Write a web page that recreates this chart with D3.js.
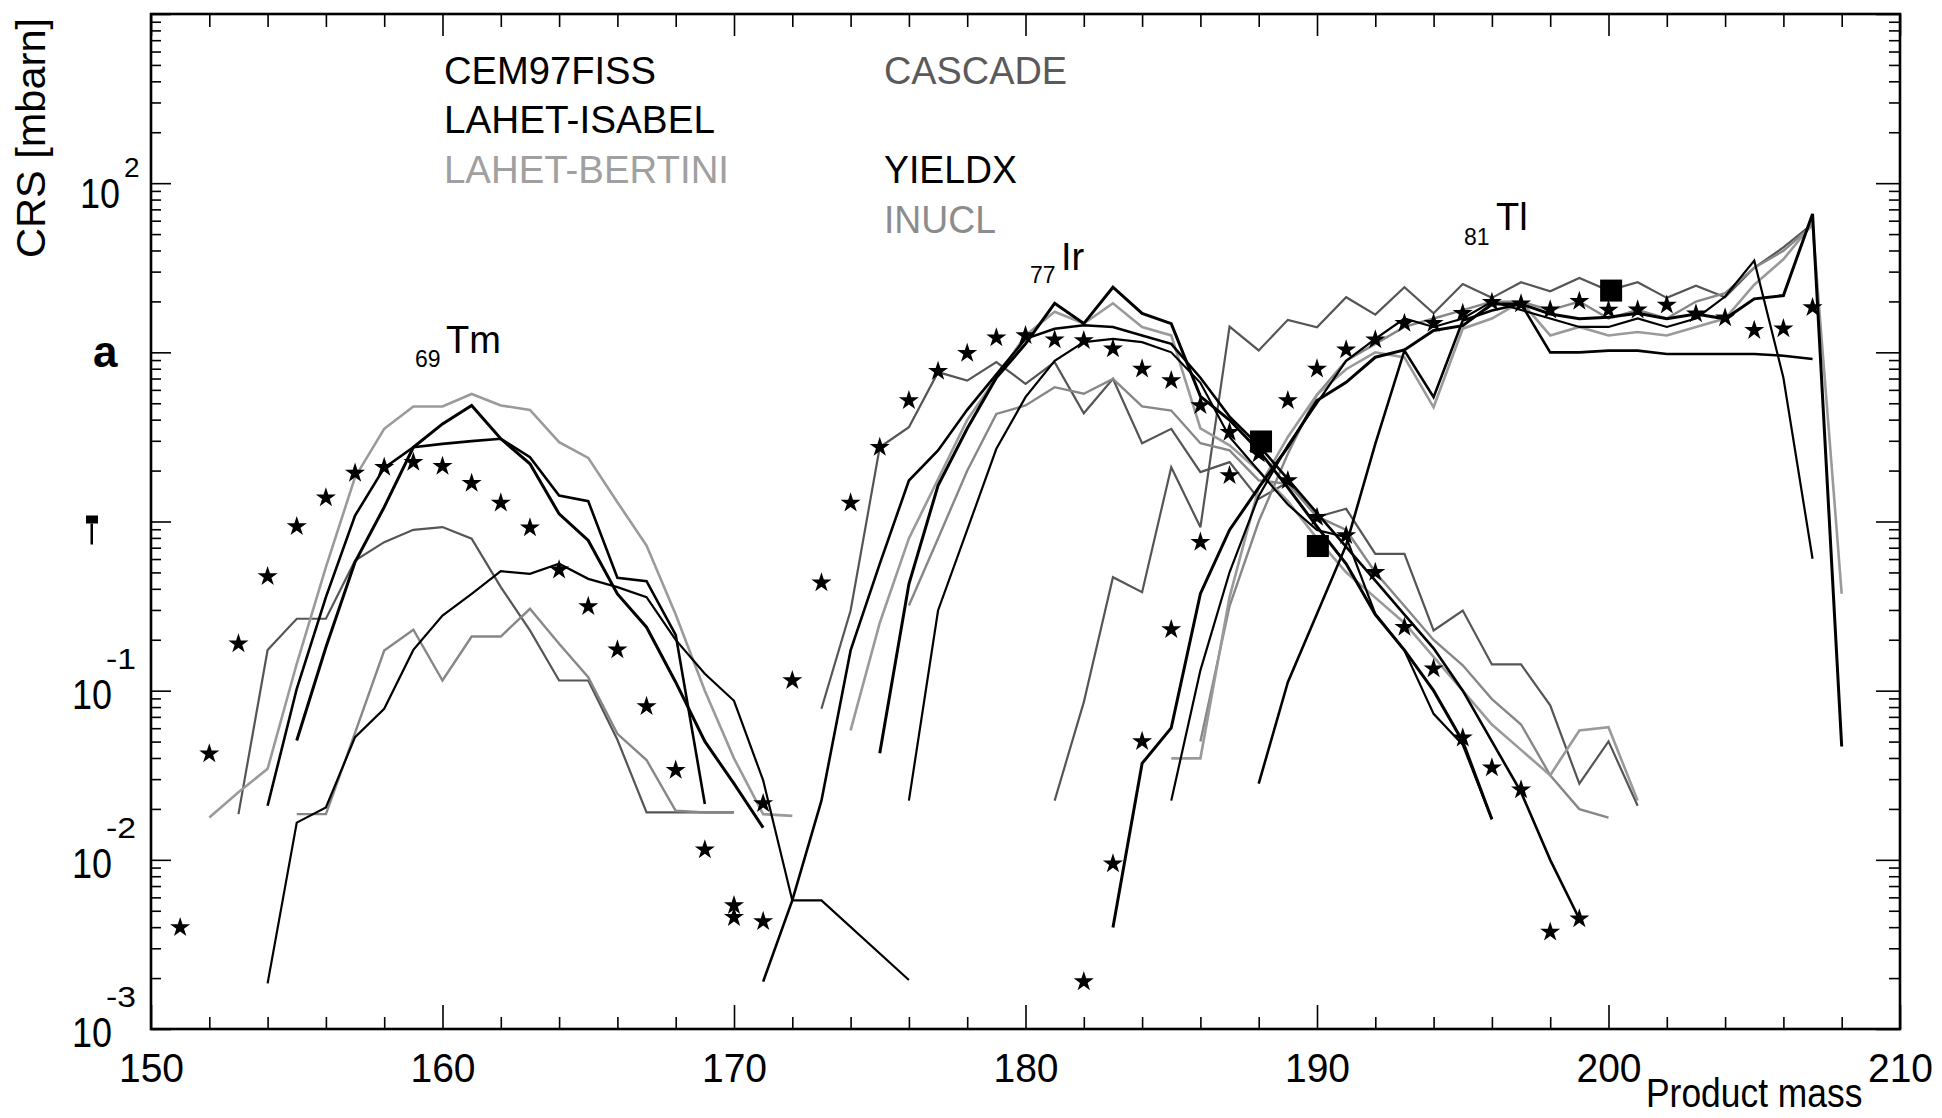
<!DOCTYPE html>
<html><head><meta charset="utf-8">
<script src="https://cdn.jsdelivr.net/npm/d3@7"></script>
<style>
body{margin:0;background:#fff}
svg{display:block}
text{font-family:"Liberation Sans",Arial,Helvetica,sans-serif}
</style>
</head><body>
<svg id="chart" width="1942" height="1118"></svg>
<script>
// ---------------- DATA (mass, log10 CRS [mbarn]) ----------------
const xLabels = [150,160,170,180,190,200,210];
const decades = [-3,-2,-1,0,1,2];
const legendModels = ["CEM97FISS","LAHET-ISABEL","LAHET-BERTINI","CASCADE","YIELDX","INUCL"];

// experimental points (stars)
const tmStars = [[151,-2.40],[152,-1.373],[153,-0.723],[154,-0.325],[155,-0.030],[156,0.140],[157,0.286],[158,0.321],[159,0.350],[160,0.327],[161,0.226],[162,0.110],[163,-0.037],[164,-0.286],[165,-0.502],[166,-0.758],[167,-1.093],[168,-1.47],[169,-1.94],[170,-2.27],[171,-2.364]];
const irStars = [[170,-2.34],[171,-1.667],[172,-0.94],[173,-0.362],[174,0.110],[175,0.439],[176,0.715],[177,0.888],[178,0.995],[179,1.086],[180,1.099],[181,1.074],[182,1.070],[183,1.021],[184,0.902],[185,0.833],[186,0.686],[187,0.528],[188,0.40],[189,0.242],[190,0.025],[191,-0.083],[192,-0.30],[193,-0.625],[194,-0.87],[195,-1.279],[196,-1.456],[197,-1.586],[198,-2.427],[199,-2.348]];
const tlStars = [[182,-2.72],[183,-2.023],[184,-1.30],[185,-0.638],[186,-0.122],[187,0.272],[188,0.46],[189,0.715],[190,0.902],[191,1.015],[192,1.074],[193,1.172],[194,1.172],[195,1.231],[196,1.296],[197,1.287],[198,1.251],[199,1.302],[200,1.25],[201,1.251],[202,1.28],[203,1.228],[204,1.204],[205,1.13],[206,1.14],[207,1.265]];
// other experiment (squares)
const squares = [[188.08,0.473],[190.03,-0.145],[200.09,1.365]];

// ---- 69Tm ----
const cemTm   = [[155,-1.295],[156,-0.743],[157,-0.24],[158,0.085],[159,0.439],[160,0.577],[161,0.686],[162,0.489],[163,0.341],[164,0.045],[165,-0.112],[166,-0.428],[167,-0.625],[168,-0.95],[169,-1.3],[170,-1.55],[171,-1.81]];
const isaTm   = [[154,-1.68],[155,-0.989],[156,-0.447],[157,0.035],[158,0.317],[159,0.439],[160,0.459],[161,0.475],[162,0.489],[163,0.380],[164,0.154],[165,0.120],[166,-0.333],[167,-0.353],[168,-0.67],[169,-1.67]];
const bertTm  = [[152,-1.75],[153,-1.6],[154,-1.462],[155,-0.841],[156,-0.270],[157,0.262],[158,0.548],[159,0.680],[160,0.680],[161,0.754],[162,0.686],[163,0.660],[164,0.469],[165,0.376],[166,0.114],[167,-0.142],[168,-0.55],[169,-1.0],[170,-1.4],[171,-1.73],[172,-1.74]];
const cascTm  = [[153,-1.73],[154,-0.76],[155,-0.575],[156,-0.575],[157,-0.231],[158,-0.122],[159,-0.049],[160,-0.033],[161,-0.102],[162,-0.388],[163,-0.644],[164,-0.94],[165,-0.94],[166,-1.29],[167,-1.72],[168,-1.72],[169,-1.72],[170,-1.72]];
const yieldTm = [[154,-2.73],[155,-1.78],[156,-1.69],[157,-1.275],[158,-1.107],[159,-0.759],[160,-0.556],[161,-0.428],[162,-0.294],[163,-0.309],[164,-0.250],[165,-0.339],[166,-0.388],[167,-0.447],[168,-0.7],[169,-0.9],[170,-1.06],[171,-1.53],[172,-2.24],[173,-2.24],[176,-2.71]];
const inuclTm = [[155,-1.73],[156,-1.73],[157,-1.25],[158,-0.763],[159,-0.640],[160,-0.940],[161,-0.68],[162,-0.68],[163,-0.516],[164,-0.723],[165,-0.92],[166,-1.255],[167,-1.41],[168,-1.71],[169,-1.72],[170,-1.72]];

// ---- 77Ir ----
const cemIr   = [[175,-1.37],[176,-0.37],[177,0.213],[178,0.55],[179,0.85],[180,1.05],[181,1.29],[182,1.17],[183,1.385],[184,1.23],[185,1.17],[186,0.74],[187,0.6],[188,0.42],[189,0.2],[190,-0.03],[191,-0.25],[192,-0.55],[193,-0.76],[194,-1.0],[195,-1.3],[196,-1.76]];
const isaIr   = [[171,-2.72],[172,-2.24],[173,-1.65],[174,-0.762],[175,-0.25],[176,0.242],[177,0.42],[178,0.66],[179,0.87],[180,1.08],[181,1.14],[182,1.16],[183,1.15],[184,1.10],[185,1.05],[186,0.85],[187,0.62],[188,0.45],[189,0.25],[190,0.05],[191,-0.15],[192,-0.35],[193,-0.55],[194,-0.75],[195,-1.0],[196,-1.3],[197,-1.6],[198,-2.0],[199,-2.35]];
const bertIr  = [[174,-1.235],[175,-0.6],[176,-0.1],[177,0.25],[178,0.6],[179,0.85],[180,1.1],[181,1.24],[182,1.17],[183,1.29],[184,1.15],[185,1.10],[186,0.55],[187,0.45],[188,0.3],[189,0.12],[190,-0.1],[191,-0.3],[192,-0.45],[193,-0.6],[194,-0.8],[195,-1.0],[196,-1.2],[197,-1.35],[198,-1.5],[199,-1.235],[200,-1.216],[201,-1.65]];
const cascIr  = [[173,-1.107],[174,-0.526],[175,0.439],[176,0.557],[177,0.883],[178,0.833],[179,0.942],[180,0.814],[181,0.942],[182,0.640],[183,0.843],[184,0.463],[185,0.548],[186,0.292],[187,0.351],[188,0.134],[189,0.232],[190,0.026],[191,0.075],[192,-0.191],[193,-0.191],[194,-0.644],[195,-0.526],[196,-0.845],[197,-0.845],[198,-1.087],[199,-1.55],[200,-1.3],[201,-1.68]];
const yieldIr = [[176,-1.65],[177,-0.526],[178,-0.05],[179,0.43],[180,0.735],[181,0.95],[182,1.06],[183,1.08],[184,1.06],[185,1.0],[186,0.82],[187,0.5],[188,0.3],[189,0.1],[190,-0.05],[191,-0.093],[192,-0.546],[193,-0.763],[194,-1.137],[195,-1.32],[196,-1.76]];
const inuclIr = [[176,-0.496],[177,-0.1],[178,0.3],[179,0.636],[180,0.686],[181,0.794],[182,0.755],[183,0.843],[184,0.680],[185,0.656],[186,0.463],[187,0.420],[188,0.243],[189,0.223],[190,0.03],[191,-0.05],[192,-0.3],[193,-0.5],[194,-0.7],[195,-0.85],[196,-1.05],[197,-1.2],[198,-1.5],[199,-1.7],[200,-1.75]];

// ---- 81Tl ----
const cemTl   = [[183,-2.40],[184,-1.43],[185,-1.22],[186,-0.427],[187,-0.05],[188,0.20],[189,0.44],[190,0.715],[191,0.823],[192,0.971],[193,1.014],[194,1.129],[195,1.158],[196,1.286],[197,1.286],[198,1.227],[199,1.198],[200,1.207],[201,1.231],[202,1.198],[203,1.227],[204,1.198],[205,1.316],[206,1.336],[207,1.818],[208,-1.33]];
const isaTl   = [[188,-1.55],[189,-0.95],[190,-0.545],[191,-0.14],[192,0.459],[193,1.011],[194,0.735],[195,1.188],[196,1.247],[197,1.286],[198,1.0],[199,1.0],[200,1.01],[201,1.01],[202,0.99],[203,0.99],[204,0.99],[205,0.99],[206,0.98],[207,0.961]];
const bertTl  = [[185,-1.40],[186,-1.40],[187,-0.447],[188,0.2],[189,0.5],[190,0.75],[191,0.9],[192,1.0],[193,0.97],[194,0.675],[195,1.14],[196,1.20],[197,1.30],[198,1.10],[199,1.15],[200,1.10],[201,1.12],[202,1.10],[203,1.15],[204,1.2],[205,1.4],[206,1.55],[207,1.76],[208,-0.427]];
const cascTl  = [[181,-1.65],[182,-1.068],[183,-0.329],[184,-0.418],[185,0.321],[186,-0.034],[187,1.152],[188,1.011],[189,1.192],[190,1.148],[191,1.326],[192,1.223],[193,1.385],[194,1.231],[195,1.404],[196,1.322],[197,1.414],[198,1.361],[199,1.440],[200,1.365],[201,1.414],[202,1.322],[203,1.394],[204,1.326],[205,1.5],[206,1.62],[207,1.76]];
const yieldTl = [[185,-1.65],[186,-0.88],[187,-0.3],[188,0.15],[189,0.45],[190,0.7],[191,0.95],[192,1.08],[193,1.2],[194,1.15],[195,1.2],[196,1.3],[197,1.25],[198,1.2],[199,1.15],[200,1.15],[201,1.2],[202,1.15],[203,1.2],[204,1.33],[205,1.542],[206,0.85],[207,-0.22]];
const inuclTl = [[186,-1.3],[187,-0.5],[188,0.0],[189,0.4],[190,0.75],[191,0.95],[192,1.05],[193,1.15],[194,1.2],[195,1.25],[196,1.3],[197,1.3],[198,1.25],[199,1.3],[200,1.2],[201,1.25],[202,1.2],[203,1.3],[204,1.35],[205,1.5],[206,1.6],[207,1.75]];

// ---------------- STYLE ----------------
const modelStyle = {
  "CEM97FISS":    {color:"#000", width:3.0},
  "LAHET-ISABEL": {color:"#000", width:2.6},
  "LAHET-BERTINI":{color:"#9a9a9a", width:2.6},
  "CASCADE":      {color:"#555", width:2.2},
  "YIELDX":       {color:"#000", width:2.2},
  "INUCL":        {color:"#878787", width:2.4}
};
const curves = [
  ["CASCADE",cascTm],["CASCADE",cascIr],["CASCADE",cascTl],
  ["INUCL",inuclTm],["INUCL",inuclIr],["INUCL",inuclTl],
  ["LAHET-BERTINI",bertTm],["LAHET-BERTINI",bertIr],["LAHET-BERTINI",bertTl],
  ["YIELDX",yieldTm],["YIELDX",yieldIr],["YIELDX",yieldTl],
  ["LAHET-ISABEL",isaTm],["LAHET-ISABEL",isaIr],["LAHET-ISABEL",isaTl],
  ["CEM97FISS",cemTm],["CEM97FISS",cemIr],["CEM97FISS",cemTl]
];

// ---------------- LAYOUT ----------------
const svg = d3.select("#chart");
const L = 151, R = 1900, T = 14, B = 1029;
const x = d3.scaleLinear().domain([150,210]).range([L,R]);
const y = d3.scaleLog().domain([1e-3,1e3]).range([B,T]);
const Y = v => y(Math.pow(10,v));

svg.append("rect").attr("width",1942).attr("height",1118).attr("fill","#fff");
svg.append("clipPath").attr("id","clip").append("rect")
  .attr("x",L).attr("y",T).attr("width",R-L).attr("height",B-T);

// ticks
const majorX = d3.range(150,211,10);
const minorX = d3.range(150,211,2).filter(v=>v%10!==0);
const majorY = d3.range(-3,4).map(e=>Math.pow(10,e));
const minorY = [];
d3.range(-3,3).forEach(e=>{ for(let k=2;k<=9;k++) minorY.push(k*Math.pow(10,e)); });

function styleAxis(g){ g.select(".domain").remove(); g.selectAll("line").attr("stroke","#000").attr("stroke-width",1.6); }

svg.append("g").attr("transform",`translate(0,${B})`)
  .call(d3.axisBottom(x).tickValues(minorX).tickSize(-12).tickFormat("")).call(styleAxis);
svg.append("g").attr("transform",`translate(0,${B})`)
  .call(d3.axisBottom(x).tickValues(majorX).tickSize(-24).tickPadding(22).tickFormat(d3.format("d")))
  .call(styleAxis)
  .call(g=>g.selectAll("text").attr("font-size",39).attr("fill","#000").attr("transform","scale(1,1.06)"));
svg.append("g").attr("transform",`translate(0,${T})`)
  .call(d3.axisTop(x).tickValues(minorX).tickSize(-13).tickFormat("")).call(styleAxis);
svg.append("g").attr("transform",`translate(0,${T})`)
  .call(d3.axisTop(x).tickValues(majorX).tickSize(-22).tickFormat("")).call(styleAxis);
svg.append("g").attr("transform",`translate(${L},0)`)
  .call(d3.axisLeft(y).tickValues(minorY).tickSize(-10).tickFormat("")).call(styleAxis);
svg.append("g").attr("transform",`translate(${L},0)`)
  .call(d3.axisLeft(y).tickValues(majorY).tickSize(-20).tickFormat("")).call(styleAxis);
svg.append("g").attr("transform",`translate(${R},0)`)
  .call(d3.axisRight(y).tickValues(minorY).tickSize(-11).tickFormat("")).call(styleAxis);
svg.append("g").attr("transform",`translate(${R},0)`)
  .call(d3.axisRight(y).tickValues(majorY).tickSize(-24).tickFormat("")).call(styleAxis);

// frame
svg.append("rect").attr("x",L).attr("y",T).attr("width",R-L).attr("height",B-T)
  .attr("fill","none").attr("stroke","#000").attr("stroke-width",2.6);

// curves
const line = d3.line().x(d=>x(d[0])).y(d=>Y(d[1]));
const gc = svg.append("g").attr("clip-path","url(#clip)");
curves.forEach(([m,data])=>{
  gc.append("path").attr("d",line(data)).attr("fill","none")
    .attr("stroke",modelStyle[m].color).attr("stroke-width",modelStyle[m].width)
    .attr("stroke-linejoin","miter").attr("stroke-miterlimit",3);
});

// stars
const star = d3.symbol().type(d3.symbolStar).size(125);
[tmStars,irStars,tlStars].forEach(arr=>{
  gc.selectAll(null).data(arr).enter().append("path")
    .attr("d",star).attr("transform",d=>`translate(${x(d[0])},${Y(d[1])})`)
    .attr("fill","#000");
});
// squares
gc.selectAll(null).data(squares).enter().append("rect")
  .attr("x",d=>x(d[0])-11).attr("y",d=>Y(d[1])-11).attr("width",22).attr("height",22).attr("fill","#000");

// y tick labels (reproducing the scanned original)
const yl = svg.append("g").attr("fill","#000");
yl.append("text").attr("x",80).attr("y",Y(2)+25).attr("font-size",42).attr("textLength",40).attr("lengthAdjust","spacingAndGlyphs").text("10");
yl.append("text").attr("x",124).attr("y",Y(2)-6).attr("font-size",28).text("2");
yl.append("text").attr("x",93).attr("y",Y(1)+15).attr("font-size",44).attr("font-weight","bold").text("a");
yl.append("rect").attr("x",86).attr("y",Y(0)-6).attr("width",12).attr("height",8);
yl.append("rect").attr("x",90.5).attr("y",Y(0)+2).attr("width",2.5).attr("height",21);
[-1,-2,-3].forEach(e=>{
  yl.append("text").attr("x",72).attr("y",Y(e)+18).attr("font-size",42).attr("textLength",40).attr("lengthAdjust","spacingAndGlyphs").text("10");
  yl.append("text").attr("x",106).attr("y",Y(e)-22).attr("font-size",30).attr("textLength",30).attr("lengthAdjust","spacingAndGlyphs").text("-"+(-e));
});

// axis titles
svg.append("text").attr("transform","translate(45,138) rotate(-90)").attr("text-anchor","middle")
  .attr("font-size",41).attr("textLength",240).attr("lengthAdjust","spacingAndGlyphs").text("CRS [mbarn]");
svg.append("text").attr("transform","translate(1646,1107) scale(0.885,1)")
  .attr("font-size",40).text("Product mass");

// legend
const legendPos = {
  "CEM97FISS":[444,84,212],"LAHET-ISABEL":[444,133,271],"LAHET-BERTINI":[444,183,285],
  "CASCADE":[884,84,183],"YIELDX":[884,183,133],"INUCL":[884,233,112]
};
const legendColor = {"CEM97FISS":"#000","LAHET-ISABEL":"#000","LAHET-BERTINI":"#a0a0a0","CASCADE":"#5a5a5a","YIELDX":"#000","INUCL":"#8c8c8c"};
legendModels.forEach(m=>{
  const [lx,ly,lw] = legendPos[m];
  svg.append("text").attr("x",lx).attr("y",ly).attr("font-size",39).attr("fill",legendColor[m])
    .attr("textLength",lw).attr("lengthAdjust","spacingAndGlyphs").text(m);
});

// element labels
function elem(sub, sym, xs, ys, xe, ye){
  svg.append("text").attr("x",xs).attr("y",ys).attr("font-size",23).text(sub);
  svg.append("text").attr("x",xe).attr("y",ye).attr("font-size",38).text(sym);
}
elem("69","Tm",415,367,446,353);
elem("77","Ir",1030,283,1061,270);
elem("81","Tl",1464,245,1496,230);
</script>
</body></html>
